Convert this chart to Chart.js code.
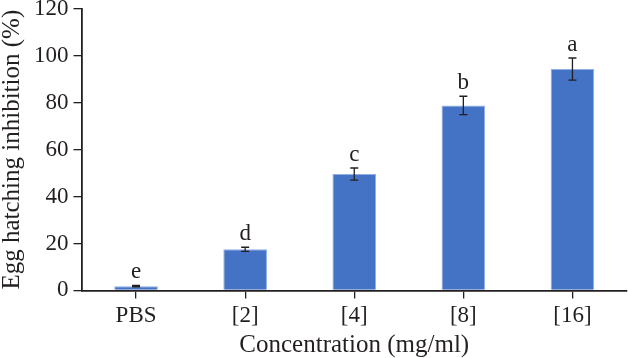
<!DOCTYPE html>
<html>
<head>
<meta charset="utf-8">
<script src="https://cdn.jsdelivr.net/npm/chart.js@4/dist/chart.umd.min.js"></script>
<style>
  html, body { margin: 0; padding: 0; background: #fff; }
  #wrap { width: 628px; height: 358px; }
</style>
</head>
<body>
<div id="wrap"><canvas id="eggChart"></canvas></div>
<script>
const categories = ['PBS', '[2]', '[4]', '[8]', '[16]'];
const inhibition = [1.8, 17.5, 49.6, 78.9, 94.4];
const errors = [0.3, 0.9, 2.6, 3.9, 4.7];
const letters = ['e', 'd', 'c', 'b', 'a'];
const yTicks = [0, 20, 40, 60, 80, 100, 120];

const ink = '#231f20';
const serif = "'Liberation Serif', 'DejaVu Serif', serif";

// error bars + significance letters on top of each bar
const errorBars = {
    id: 'errorBars',
    afterDatasetsDraw(chart) {
        const ctx = chart.ctx;
        const x = chart.scales.x, y = chart.scales.y;
        ctx.save();
        ctx.strokeStyle = ink;
        ctx.lineWidth = 1.3;
        ctx.fillStyle = ink;
        ctx.font = '23px ' + serif;
        ctx.textAlign = 'center';
        ctx.textBaseline = 'bottom';
        inhibition.forEach((v, i) => {
            const cx = x.getPixelForValue(i);
            const top = y.getPixelForValue(v + errors[i]);
            const bot = y.getPixelForValue(v - errors[i]);
            ctx.beginPath();
            ctx.moveTo(cx, top); ctx.lineTo(cx, bot);
            ctx.moveTo(cx - 4, top); ctx.lineTo(cx + 4, top);
            ctx.moveTo(cx - 4, bot); ctx.lineTo(cx + 4, bot);
            ctx.stroke();
            ctx.fillText(letters[i], cx, top - 2);
        });
        ctx.restore();
    }
};

const ctx = document.getElementById('eggChart').getContext('2d');
const chart = new Chart(ctx, {
    type: 'bar',
    data: {
        labels: categories,
        datasets: [{
            data: inhibition,
            backgroundColor: '#4472c4',
            borderColor: '#8fb0e6',
            borderWidth: 1,
            barPercentage: 0.4,
            categoryPercentage: 1.0
        }]
    },
    options: {
        responsive: true,
        maintainAspectRatio: false,
        animation: false,
        layout: { padding: { top: 9, right: 1, left: 0, bottom: -2 } },
        plugins: {
            legend: { display: false },
            tooltip: { enabled: false }
        },
        scales: {
            x: {
                grid: {
                    offset: false,
                    drawOnChartArea: false,
                    drawTicks: true,
                    tickLength: 8,
                    color: ink,
                    lineWidth: 1.3
                },
                border: { display: true, color: ink, width: 1.8 },
                ticks: { color: ink, font: { family: serif, size: 23 }, padding: 4 },
                title: {
                    display: true,
                    text: 'Concentration (mg/ml)',
                    color: ink,
                    font: { family: serif, size: 25 },
                    padding: { top: -4, bottom: 0 }
                }
            },
            y: {
                min: 0,
                max: 120,
                afterBuildTicks(axis) { axis.ticks = yTicks.map(v => ({ value: v })); },
                afterFit(axis) { axis.paddingTop = 0; },
                grid: {
                    drawOnChartArea: false,
                    drawTicks: true,
                    tickLength: 8,
                    color: ink,
                    lineWidth: 1.3
                },
                border: { display: true, color: ink, width: 1.8 },
                ticks: { color: ink, font: { family: serif, size: 23 }, padding: 5 },
                title: {
                    display: true,
                    text: 'Egg hatching inhibition (%)',
                    color: ink,
                    font: { family: serif, size: 25 },
                    padding: { top: -3, bottom: 2 }
                }
            }
        }
    },
    plugins: [errorBars]
});
</script>
</body>
</html>
